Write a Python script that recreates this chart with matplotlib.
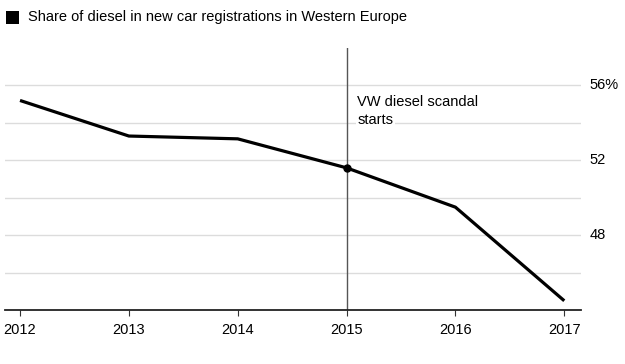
import matplotlib.pyplot as plt
from matplotlib.patches import Rectangle

plt.rcParams['font.family'] = ['Liberation Sans', 'DejaVu Sans']

years = [2012, 2013, 2014, 2015, 2016, 2017]
diesel_share = [55.2, 53.3, 53.15, 51.6, 49.5, 44.5]
grid_levels = [46, 48, 50, 52, 54, 56]
label_levels = [48, 52, 56]
label_texts = ['48', '52', '56%']
event_year = 2015
event_lines = ['VW diesel scandal', 'starts']
title = 'Share of diesel in new car registrations in Western Europe'

fig = plt.figure(figsize=(6.25, 3.64), dpi=100)
ax = fig.add_axes([0.008, 0.148, 0.922, 0.72])

for g in grid_levels:
    ax.axhline(g, color='#dcdcdc', linewidth=1.0, zorder=1)

ax.plot(years, diesel_share, color='black', linewidth=2.3, zorder=3,
        solid_capstyle='butt')
idx = years.index(event_year)
ax.plot([event_year], [diesel_share[idx]], 'o', color='black', markersize=5, zorder=4)
ax.axvline(event_year, color='#555555', linewidth=1.0, zorder=2)

# annotation: one text per line so each masks only the gridline behind it
for i, line in enumerate(event_lines):
    ax.text(event_year + 0.1, 55.1 - i * 0.92, line, fontsize=10.5, va='center',
            ha='left', color='black',
            bbox=dict(facecolor='white', edgecolor='none', pad=0.8), zorder=2.5)

ax.set_xlim(2011.862, 2017.156)
ax.set_ylim(44, 58)
ax.set_xticks(years)
ax.set_xticklabels([str(y) for y in years], fontsize=10.5)
ax.tick_params(axis='x', length=4, width=0.8, color='#333333', pad=5)
ax.set_yticks([])
for s in ['top', 'right', 'left']:
    ax.spines[s].set_visible(False)
ax.spines['bottom'].set_linewidth(1.3)
ax.spines['bottom'].set_color('#222222')

for lv, tx in zip(label_levels, label_texts):
    ax.text(1.015, lv, tx, transform=ax.get_yaxis_transform(), fontsize=10.5,
            va='center', ha='left')

fig.patches.append(Rectangle((6 / 625, 1 - 24 / 364), 13 / 625, 13 / 364,
                             transform=fig.transFigure, facecolor='black',
                             edgecolor='none'))
fig.text(28 / 625, 1 - 17 / 364, title, fontsize=10.5, va='center', ha='left')

fig.savefig('out.png', dpi=100)
